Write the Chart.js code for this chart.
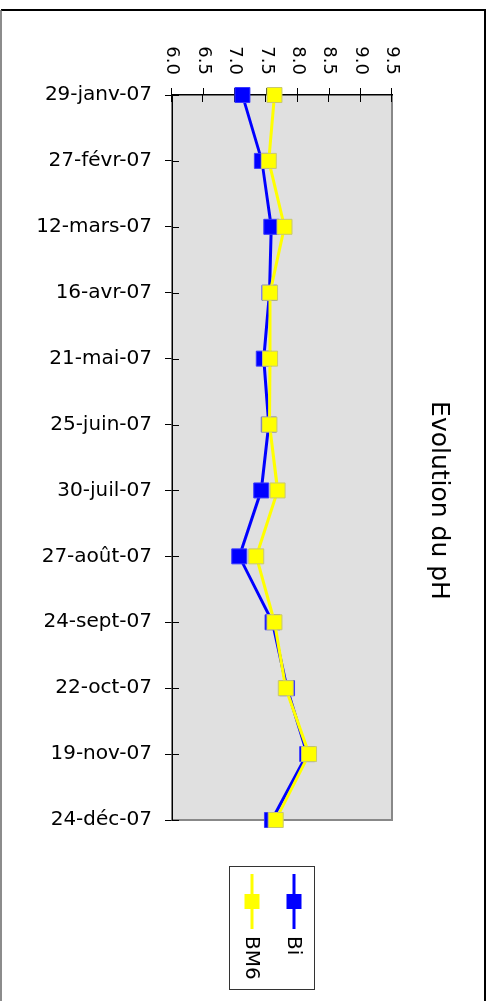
<!DOCTYPE html>
<html>
<head>
<meta charset="utf-8">
<script src="https://cdn.jsdelivr.net/npm/chart.js@4/dist/chart.umd.min.js"></script>
<style>
  html, body { margin: 0; padding: 0; background: #fff; overflow: hidden; }
  /* the chart is laid out landscape and turned a quarter turn clockwise */
  #wrap {
    position: absolute; left: 0; top: 0;
    width: 1001px; height: 489px;
    transform-origin: 0 0;
    transform: translate(489px, 0) rotate(90deg);
  }
</style>
</head>
<body>
<div id="wrap"><canvas id="c" width="1001" height="489"></canvas></div>
<script>
// Sampling dates
const dates = ['29-janv-07', '27-févr-07', '12-mars-07', '16-avr-07', '21-mai-07', '25-juin-07',
               '30-juil-07', '27-août-07', '24-sept-07', '22-oct-07', '19-nov-07', '24-déc-07'];
// pH measured at each station
const phBi  = [7.12, 7.43, 7.58, 7.55, 7.46, 7.54, 7.42, 7.07, 7.60, 7.83, 8.15, 7.59];
const phBM6 = [7.63, 7.54, 7.79, 7.56, 7.56, 7.55, 7.68, 7.34, 7.63, 7.81, 8.18, 7.65];
// value axis
const phMin = 6.0, phMax = 9.5, phStep = 0.5;
const seriesNames = ['Bi', 'BM6'];

const FONT = "'DejaVu Sans', Verdana, sans-serif";

// Grey plot area, its frame and the outer chart border
const frame = {
  id: 'frame',
  beforeDraw(chart) {
    const { ctx, chartArea: a } = chart;
    ctx.save();
    ctx.fillStyle = '#e0e0e0';
    ctx.fillRect(a.left, a.top, a.right - a.left, a.bottom - a.top);
    ctx.strokeStyle = '#888888';
    ctx.lineWidth = 2;
    ctx.beginPath();
    ctx.moveTo(a.left, a.top); ctx.lineTo(a.right, a.top); ctx.lineTo(a.right, a.bottom);
    ctx.stroke();
    // outer border
    ctx.strokeStyle = '#000';
    ctx.lineWidth = 2;
    ctx.beginPath();
    ctx.moveTo(1010, 4); ctx.lineTo(10, 4); ctx.lineTo(10, 488);
    ctx.stroke();
    ctx.strokeStyle = '#666';
    ctx.lineWidth = 1.5;
    ctx.beginPath();
    ctx.moveTo(10, 488); ctx.lineTo(1010, 488);
    ctx.stroke();
    ctx.restore();
  }
};

// Tick marks that cross the axis line: inner half
const crossTicks = {
  id: 'crossTicks',
  beforeDatasetsDraw(chart) {
    const { ctx, chartArea: a, scales: { x, y } } = chart;
    ctx.save();
    ctx.strokeStyle = '#000';
    ctx.lineWidth = 1;
    ctx.beginPath();
    x.ticks.forEach((t, i) => {
      const px = Math.round(x.getPixelForTick(i)) + 0.5;
      ctx.moveTo(px, a.bottom); ctx.lineTo(px, a.bottom - 7);
    });
    y.ticks.forEach((t, i) => {
      const py = Math.round(y.getPixelForTick(i)) + 0.5;
      ctx.moveTo(a.left, py); ctx.lineTo(a.left + 7, py);
    });
    ctx.stroke();
    ctx.restore();
  }
};

// Framed legend with line + square symbols
const boxLegend = {
  id: 'boxLegend',
  afterDraw(chart) {
    const { ctx } = chart;
    const L = 866, T = 174, W = 123, H = 85;
    ctx.save();
    ctx.strokeStyle = '#333';
    ctx.lineWidth = 1;
    ctx.strokeRect(L + 0.5, T + 0.5, W, H);
    chart.data.datasets.forEach((ds, i) => {
      const cy = T + 21 + i * 42;
      ctx.strokeStyle = ds.borderColor;
      ctx.lineWidth = 3;
      ctx.beginPath();
      ctx.moveTo(874, cy); ctx.lineTo(929, cy);
      ctx.stroke();
      ctx.fillStyle = ds.pointBackgroundColor;
      ctx.fillRect(901.5 - 7.5, cy - 7.5, 15, 15);
      ctx.fillStyle = '#000';
      ctx.font = '20px ' + FONT;
      ctx.textBaseline = 'middle';
      ctx.textAlign = 'left';
      ctx.fillText(ds.label, 936, cy + 1);
    });
    ctx.restore();
  }
};

new Chart(document.getElementById('c'), {
  type: 'line',
  data: {
    labels: dates,
    datasets: [
      {
        label: seriesNames[0], data: phBi, order: 1,
        borderColor: '#0000ff', backgroundColor: '#0000ff',
        pointBackgroundColor: '#0000ff', pointBorderColor: '#3a3aff',
        borderWidth: 3, pointStyle: 'rect', pointRadius: 10.6, pointBorderWidth: 1,
        tension: 0
      },
      {
        label: seriesNames[1], data: phBM6, order: 0,
        borderColor: '#ffff00', backgroundColor: '#ffff00',
        pointBackgroundColor: '#ffff00', pointBorderColor: '#c8c870',
        borderWidth: 3, pointStyle: 'rect', pointRadius: 10.6, pointBorderWidth: 1,
        tension: 0
      }
    ]
  },
  options: {
    responsive: false,
    animation: false,
    devicePixelRatio: 1,
    layout: { padding: 0 },
    plugins: {
      legend: { display: false },
      tooltip: { enabled: false },
      title: {
        display: true,
        text: 'Evolution du pH',
        color: '#000',
        font: { family: FONT, size: 25, weight: 'normal', lineHeight: 1.2 },
        padding: { top: 35, bottom: 32 }
      }
    },
    scales: {
      x: {
        type: 'category',
        offset: false,
        afterFit(s) { s.height = 172; },
        grid: { drawOnChartArea: false, color: '#000', tickLength: 7, lineWidth: 1 },
        border: { color: '#000', width: 1.5 },
        ticks: {
          autoSkip: false, minRotation: 90, maxRotation: 90,
          color: '#000', padding: 13,
          font: { family: FONT, size: 20 }
        }
      },
      y: {
        min: phMin, max: phMax,
        afterFit(s) { s.width = 95; },
        grid: { drawOnChartArea: false, color: '#000', tickLength: 7, lineWidth: 1 },
        border: { color: '#000', width: 1.5 },
        ticks: {
          stepSize: phStep,
          color: '#000', padding: 13,
          font: { family: FONT, size: 18 },
          callback: (v) => Number(v).toFixed(1)
        }
      },
      // empty right-hand band that holds the legend
      side: {
        type: 'linear',
        position: 'right',
        afterFit(s) { s.width = 181; },
        grid: { display: false, drawOnChartArea: false },
        border: { display: false },
        ticks: { display: false }
      }
    }
  },
  plugins: [frame, crossTicks, boxLegend]
});
</script>
</body>
</html>
